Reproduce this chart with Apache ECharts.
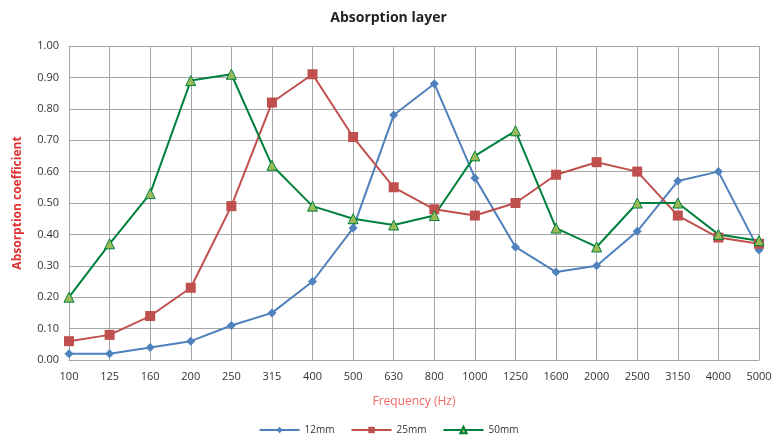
<!DOCTYPE html>
<html>
<head>
<meta charset="utf-8">
<script src="https://cdn.jsdelivr.net/npm/echarts@6/dist/echarts.min.js"></script>
<style>
html,body{margin:0;padding:0;background:#fff;}
#chart{width:777px;height:439px;}
</style>
</head>
<body>
<div id="chart"></div>
<script>
// frequencies (Hz)
var freqs = ['100','125','160','200','250','315','400','500','630','800','1000','1250','1600','2000','2500','3150','4000','5000'];
// absorption coefficients
var mm12 = [0.02,0.02,0.04,0.06,0.11,0.15,0.25,0.42,0.78,0.88,0.58,0.36,0.28,0.30,0.41,0.57,0.60,0.35];
var mm25 = [0.06,0.08,0.14,0.23,0.49,0.82,0.91,0.71,0.55,0.48,0.46,0.50,0.59,0.63,0.60,0.46,0.39,0.37];
var mm50 = [0.20,0.37,0.53,0.89,0.91,0.62,0.49,0.45,0.43,0.46,0.65,0.73,0.42,0.36,0.50,0.50,0.40,0.38];

var font = 'Open Sans';
var myChart = echarts.init(document.getElementById('chart'));
myChart.setOption({
  animation:false,
  title:{
    text:'Absorption layer',
    left:'center',
    top:6,
    textStyle:{fontFamily:font,fontSize:14,fontWeight:'bold',color:'#222'}
  },
  legend:{
    bottom:-1,
    left:'center',
    itemWidth:40,
    itemHeight:8,
    itemGap:16,
    textStyle:{fontFamily:font,fontSize:10,color:'#333'},
    data:['12mm','25mm','50mm']
  },
  grid:{left:69,right:18,top:46,bottom:79},
  xAxis:{
    type:'category',
    data:freqs,
    boundaryGap:false,
    name:'Frequency (Hz)',
    nameLocation:'middle',
    nameGap:36,
    nameTextStyle:{fontFamily:font,fontSize:12,color:'#f06868'},
    axisLine:{lineStyle:{color:'#a6a6a6'}},
    axisTick:{show:false},
    axisLabel:{fontFamily:font,fontSize:11,color:'#333',margin:11,interval:0},
    splitLine:{show:true,lineStyle:{color:'#a6a6a6'}}
  },
  yAxis:{
    type:'value',
    min:0,max:1,interval:0.1,
    name:'Absorption coefficient',
    nameLocation:'middle',
    nameGap:45,
    nameTextStyle:{fontFamily:font,fontSize:12,fontWeight:'bold',color:'#e03030'},
    axisLine:{show:true,lineStyle:{color:'#a6a6a6'}},
    axisTick:{show:false},
    axisLabel:{fontFamily:font,fontSize:11,color:'#333',margin:10,formatter:function(v){return v.toFixed(2);}},
    splitLine:{lineStyle:{color:'#a6a6a6'}}
  },
  series:[
    {
      name:'12mm',type:'line',data:mm12,
      symbol:'diamond',symbolSize:9,
      lineStyle:{color:'#4f81bd',width:2},
      itemStyle:{color:'#4f81bd'}
    },
    {
      name:'25mm',type:'line',data:mm25,
      symbol:'rect',symbolSize:10,
      lineStyle:{color:'#c0504d',width:2},
      itemStyle:{color:'#c0504d'}
    },
    {
      name:'50mm',type:'line',data:mm50,
      symbol:'triangle',symbolSize:10,
      lineStyle:{color:'#00803c',width:2},
      itemStyle:{color:'#9bbb59',borderColor:'#00803c',borderWidth:1}
    }
  ]
});
</script>
</body>
</html>
